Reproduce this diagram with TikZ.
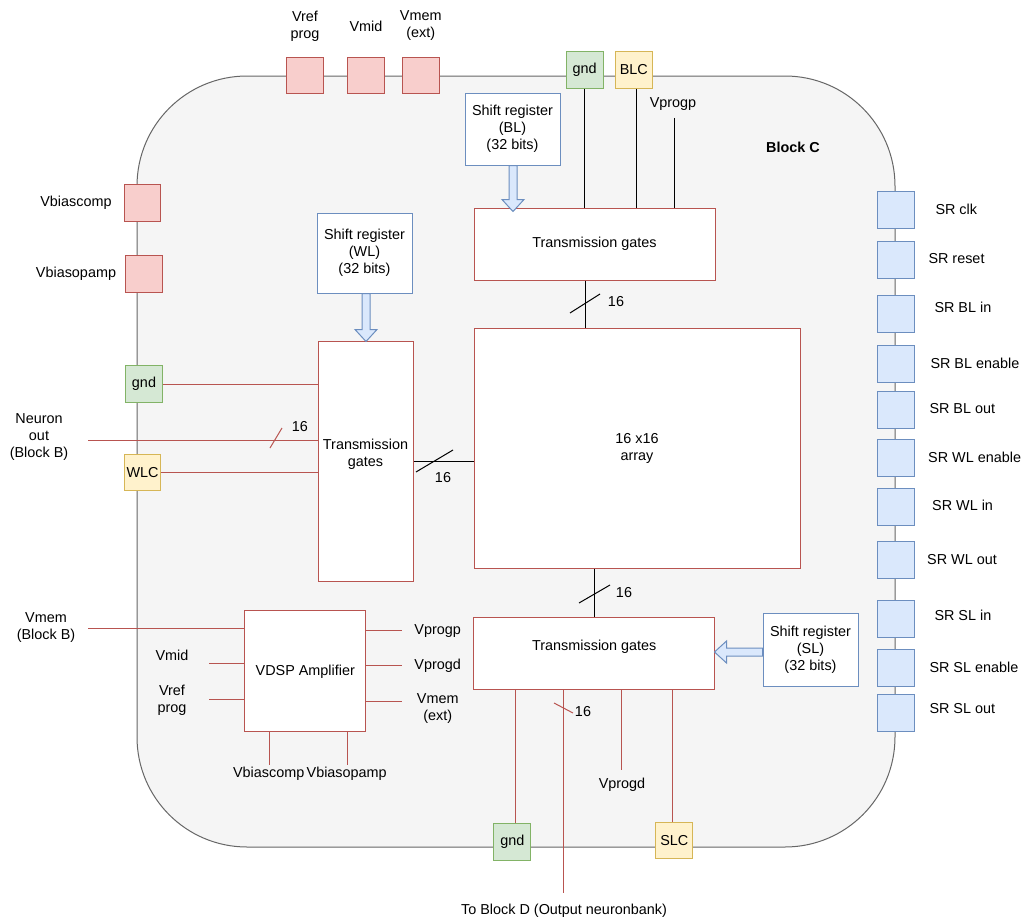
\documentclass[tikz,border=0pt]{standalone}
\usepackage{fontspec}
\setmainfont{Liberation Sans}
\definecolor{redline}{HTML}{B85450}
\definecolor{redfill}{HTML}{F8CECC}
\definecolor{greenline}{HTML}{82B366}
\definecolor{greenfill}{HTML}{D5E8D4}
\definecolor{yellowline}{HTML}{D6B656}
\definecolor{yellowfill}{HTML}{FFF2CC}
\definecolor{blueline}{HTML}{6C8EBF}
\definecolor{bluefill}{HTML}{DAE8FC}
\definecolor{greyline}{HTML}{666666}
\definecolor{greyfill}{HTML}{F5F5F5}
\begin{document}
\begin{tikzpicture}[x=1pt,y=-1pt,font=\fontsize{14.4}{17}\selectfont,line width=1pt,
        pad/.style={minimum width=36.7pt,minimum height=36.7pt,inner sep=0pt},
        redpad/.style={pad,draw=redline,fill=redfill},
        greenpad/.style={pad,draw=greenline,fill=greenfill},
        yellowpad/.style={pad,draw=yellowline,fill=yellowfill},
        bluepad/.style={pad,draw=blueline,fill=bluefill},
        redbox/.style={draw=redline,fill=white,inner sep=0pt,align=center},
        bluebox/.style={draw=blueline,fill=white,inner sep=0pt,align=center,minimum width=95pt},
        lbl/.style={align=center,inner sep=0pt},
        wire/.style={draw=redline},
        fatarrow/.style={draw=blueline,fill=bluefill,line join=miter}]
        \useasboundingbox[fill=white] (0,0) rectangle (1021,921);
        \node[draw=greyline,fill=greyfill,rounded corners=110pt,minimum width=758pt,minimum height=771pt,inner sep=0pt] (blk) at (516,461.5) {};
        \node[font=\fontsize{14.4}{17}\selectfont\bfseries] (blkname) at (793,147) {Block C};
        \node[redpad] (vrefp) at (305,75.5) {};
        \node[redpad] (vmidp) at (366,75.5) {};
        \node[redpad] (vmemp) at (420.7,75.5) {};
        \node[lbl] (vrefl) at (305,26) {Vref\\prog};
        \node[lbl] (vmidl) at (366,26) {Vmid};
        \node[lbl] (vmeml) at (420.7,26) {Vmem\\(ext)};
        \node[greenpad] (gndt) at (584.7,69.7) {gnd};
        \node[yellowpad] (blc) at (633.8,69.7) {BLC};
        \node[lbl] (vprogpt) at (673,104) {Vprogp};
        \node[bluebox,minimum height=72pt] (srbl) at (512.5,129) {Shift register\\(BL)\\(32 bits)};
        \node[redbox,minimum width=241pt,minimum height=72pt] (tgt) at (594.5,244) {Transmission gates};
        \node[redbox,minimum width=326pt,minimum height=240pt] (arr) at (637,448) {16 x16\\array};
        \draw (gndt) -- (gndt |- tgt.north);
        \draw ([xshift=3pt]blc.south) -- ([xshift=3pt]blc.south |- tgt.north);
        \draw ([xshift=1pt,yshift=-7pt]vprogpt.south) -- ([xshift=1pt]vprogpt.south |- tgt.north);
        \draw[fatarrow] ([xshift=0.5pt]srbl.south) ++(-4,0) -- ++(0,34) -- ++(-7,0) -- ++(11,12) -- ++(11,-12) -- ++(-7,0) -- ++(0,-34) -- cycle;
        \draw (tgt.south -| 585,0) -- (arr.north -| 585,0);
        \draw (570,313) -- (600,294);
        \node[lbl] (n16c) at (616,302) {16};
        \node[bluebox,minimum height=80pt] (srwl) at (364.5,253) {Shift register\\(WL)\\(32 bits)};
        \node[redbox,minimum width=95pt,minimum height=240pt] (tgl) at (365.5,461) {Transmission\\gates\\\mbox{}};
        \draw[fatarrow] ([xshift=1.5pt]srwl.south) ++(-4,0) -- ++(0,36) -- ++(-7,0) -- ++(11,12) -- ++(11,-12) -- ++(-7,0) -- ++(0,-36) -- cycle;
        \node[redpad] (vbcp) at (142.5,203.3) {};
        \node[redpad] (vbop) at (144,274.3) {};
        \node[lbl] (vbcl) at (76,203) {Vbiascomp};
        \node[lbl] (vbol) at (76,274) {Vbiasopamp};
        \node[greenpad] (gndl) at (144,384) {gnd};
        \node[yellowpad] (wlc) at (142.5,472.5) {WLC};
        \draw[wire] (gndl) -- (gndl -| tgl.west);
        \draw[wire] (wlc) -- (wlc -| tgl.west);
        \coordinate (nout) at (88,440);
        \node[lbl] (noutl) at (39,437) {Neuron\\out\\(Block B)};
        \draw[wire] (nout) -- (nout -| tgl.west);
        \draw[wire] (270,448) -- (282,428);
        \node[lbl] (n16a) at (300,427) {16};
        \draw (tgl.east) -- (tgl.east -| arr.west);
        \draw (416,472) -- (453,450);
        \node[lbl] (n16b) at (443,478) {16};
        \node[redbox,minimum width=241.3pt,minimum height=72.3pt] (tgb) at (594.3,653.8) {Transmission gates\\\mbox{}};
        \draw (arr.south -| tgb.north) -- (tgb.north);
        \draw (579,603) -- (610,585);
        \node[lbl] (n16d) at (624,593) {16};
        \node[bluebox,minimum height=72.3pt] (srsl) at (810.5,650) {Shift register\\(SL)\\(32 bits)};
        \draw[fatarrow] ([yshift=-2pt]srsl.west) ++(0,-4) -- ++(-36,0) -- ++(0,-7) -- ++(-12,11) -- ++(12,11) -- ++(0,-7) -- ++(36,0) -- cycle;
        \node[greenpad] (gndb) at (512.3,841.7) {gnd};
        \node[yellowpad] (slc) at (674.3,840.5) {SLC};
        \draw[wire] (tgb.south -| 515.3,0) -- (gndb.north -| 515.3,0);
        \draw[wire] (tgb.south -| 672.3,0) -- (slc.north -| 672.3,0);
        \coordinate (todd) at (563.3,893);
        \draw[wire] (tgb.south -| todd) -- (todd);
        \draw[wire] (554,703) -- (573,713);
        \node[lbl] (n16e) at (583,712) {16};
        \node[lbl] (toddl) at (564,911) {To Block D (Output neuronbank)};
        \node[lbl] (vprogdb) at (622,785) {Vprogd};
        \draw[wire] (tgb.south -| 621,0) -- (621,770);
        \node[redbox,minimum width=120.7pt,minimum height=120.7pt] (vdsp) at (305.3,671.3) {VDSP Amplifier};
        \coordinate (vmemb) at (88,628.3);
        \node[lbl] (vmembl) at (46,628) {Vmem\\(Block B)};
        \draw[wire] (vmemb) -- (vmemb -| vdsp.west);
        \coordinate (vmidin) at (209,663);
        \node[lbl] (vmidinl) at (172,655) {Vmid};
        \draw[wire] (vmidin) -- (vmidin -| vdsp.west);
        \coordinate (vrefin) at (209,699);
        \node[lbl] (vrefinl) at (172,700) {Vref\\prog};
        \draw[wire] (vrefin) -- (vrefin -| vdsp.west);
        \coordinate (vprogpo) at (401.7,630.3);
        \coordinate (vprogdo) at (401.7,665.3);
        \coordinate (vmemo) at (401.7,701);
        \node[lbl] (vprogpl) at (437.7,631) {Vprogp};
        \node[lbl] (vprogdl) at (437.7,666) {Vprogd};
        \node[lbl] (vmemol) at (437.7,709) {Vmem\\(ext)};
        \draw[wire] (vdsp.east |- vprogpo) -- (vprogpo);
        \draw[wire] (vdsp.east |- vprogdo) -- (vprogdo);
        \draw[wire] (vdsp.east |- vmemo) -- (vmemo);
        \coordinate (vbco) at (269.3,765);
        \coordinate (vboo) at (347.7,765);
        \node[lbl] (vbcol) at (268.7,774) {Vbiascomp};
        \node[lbl] (vbool) at (346.7,774) {Vbiasopamp};
        \draw[wire] (vdsp.south -| vbco) -- (vbco);
        \draw[wire] (vdsp.south -| vboo) -- (vboo);
        \foreach \y/\ly/\t/\lx [count=\i] in {209.7/209.3/SR clk/935, 259.7/258.3/SR reset/928, 313.7/307.7/SR BL in/934, 364/363.3/SR BL enable/930, 410/409/SR BL out/929, 457.8/457.7/SR WL enable/927.7, 507.2/505/SR WL in/931.7, 560.3/560/SR WL out/926.7, 618.7/615/SR SL in/934, 668.2/667.3/SR SL enable/929, 712.7/708.3/SR SL out/929}
          {\node[bluepad] (sr\i) at (895.7,\y) {};
           \node[lbl,anchor=west] (srl\i) at (\lx,\ly) {\t};}
        \end{tikzpicture}
\end{document}
